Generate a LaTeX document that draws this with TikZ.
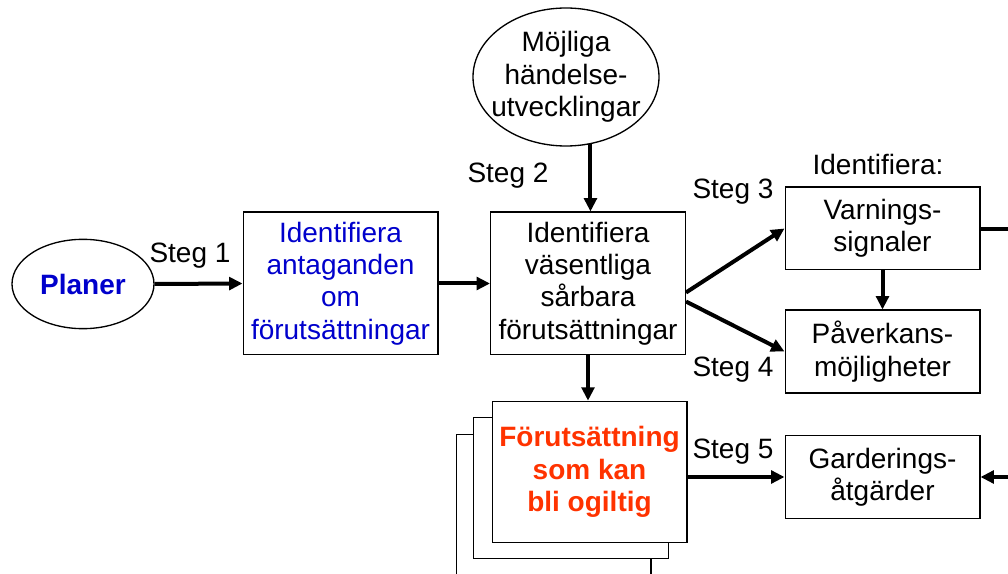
\documentclass[tikz,border=0pt]{standalone}
\usepackage{fontspec}
\setmainfont{Liberation Sans}
\usetikzlibrary{shapes.geometric,arrows.meta,calc}
\definecolor{planblue}{RGB}{0,0,204}
\definecolor{riskred}{RGB}{255,51,0}
\tikzset{
  stepbox/.style={draw, line width=1pt, fill=white, inner sep=0pt, align=center,
    minimum width=146pt, minimum height=107pt},
  smallbox/.style={stepbox, minimum height=62pt},
  bigarrow/.style={line width=3pt, -{Triangle[length=10pt,width=9.5pt]}},
  txt/.style={font=\fontsize{21}{24.3}\selectfont}
}
\begin{document}
\begin{tikzpicture}[x=0.75pt, y=-0.75pt, txt, every node/.append style={txt}]
\useasboundingbox (0,0) rectangle (1008,574);
\clip (0,0) rectangle (1008,574);

% Ellipses
\node[ellipse, draw, line width=1pt, inner sep=0pt, minimum width=106.5pt, minimum height=67pt,
  text=planblue, font=\fontsize{21}{24}\selectfont\bfseries] (planer) at (83,284) {Planer};
\node[ellipse, draw, line width=1pt, inner sep=0pt, minimum width=139.5pt, minimum height=103.5pt]
  (mojliga) at (566,77) {};
\node[align=center] (mojtext) at (mojliga.center) {Möjliga\\händelse-\\utvecklingar};

% Main boxes
\node[stepbox, text=planblue] (antag) at (340.5,283.5) {Identifiera\\antaganden\\om\\förutsättningar};
\node[stepbox] (sarbara) at (588,283.5) {Identifiera\\väsentliga\\sårbara\\förutsättningar};

% Stacked boxes
\node[stepbox, minimum height=106pt] (stackc) at (553.5,505) {};
\node[stepbox, minimum height=106pt] (stackb) at (571,488) {};
\node[stepbox, minimum height=106pt, text=riskred, font=\fontsize{21}{24.3}\selectfont\bfseries]
  (ogiltig) at (589.5,472) {Förutsättning\\som kan\\bli ogiltig};

% Right column
\node[smallbox] (varn) at (882.5,228.5) {Varnings-\\signaler};
\node[smallbox] (pav) at (882.5,351.5) {Påverkans-\\möjligheter};
\node[smallbox] (gard) at (882.5,477) {Garderings-\\åtgärder};
\coordinate (edgeA) at (1008,229);
\coordinate (edgeB) at (1008,477);

% Arrows
\draw[bigarrow] (planer.east) -- (antag.west);
\draw[bigarrow] (antag.east) -- (sarbara.west);
\draw[bigarrow] (mojliga.-70) -- (mojliga.-70 |- sarbara.north);
\draw[bigarrow] ($(sarbara.east)+(0,9)$) -- (varn.west);
\draw[bigarrow] ($(sarbara.east)+(0,18)$) -- (pav.west);
\draw[bigarrow] (varn.south) -- (pav.north);
\draw[bigarrow] (sarbara.south) -- (sarbara.south |- ogiltig.north);
\draw[bigarrow] (ogiltig.east |- gard.west) -- (gard.west);
\draw[line width=3pt] (varn.east |- edgeA) -- (edgeA);
\draw[bigarrow] (edgeB) -- (gard.east);

% Labels
\node (s1) at (190,256) {Steg 1};
\node (s2) at (508,176) {Steg 2};
\node (s3) at (733,192) {Steg 3};
\node (s4) at (733,370) {Steg 4};
\node (s5) at (733,452) {Steg 5};
\node (ident) at (878,164) {Identifiera:};
\end{tikzpicture}
\end{document}
